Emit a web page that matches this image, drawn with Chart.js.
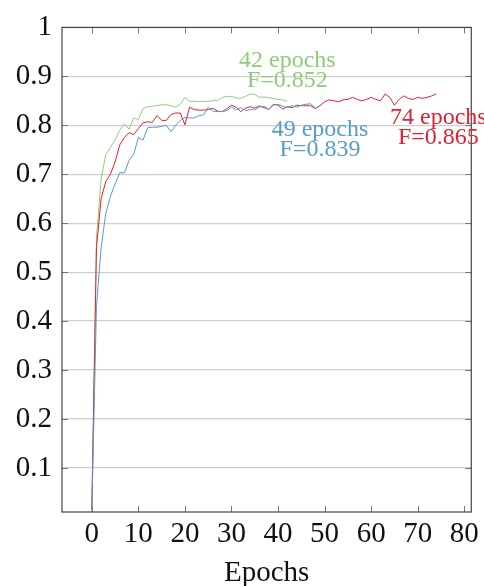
<!DOCTYPE html>
<html>
<head>
<meta charset="utf-8">
<script src="https://cdn.jsdelivr.net/npm/chart.js@4"></script>
<style>
  html, body { margin: 0; padding: 0; background: #fff; }
  #wrap { width: 484px; height: 586px; }
</style>
</head>
<body>
<div id="wrap"><canvas id="fChart"></canvas></div>
<script>
// F-score per epoch (index = epoch)
const greenF = [0.02, 0.57, 0.69, 0.74, 0.755, 0.77, 0.79, 0.803, 0.792, 0.815, 0.812, 0.834, 0.838, 0.839, 0.84,
    0.842, 0.842, 0.84, 0.837, 0.843, 0.857, 0.849, 0.849, 0.848, 0.849, 0.849, 0.85, 0.851, 0.857, 0.859,
    0.859, 0.856, 0.855, 0.859, 0.864, 0.863, 0.857, 0.858, 0.856, 0.855, 0.853, 0.852, 0.849];
const redF = [0.015, 0.55, 0.65, 0.685, 0.70, 0.725, 0.76, 0.775, 0.785, 0.781, 0.793, 0.805, 0.807, 0.806, 0.82,
    0.81, 0.81, 0.822, 0.825, 0.825, 0.801, 0.837, 0.832, 0.831, 0.831, 0.832, 0.835, 0.829, 0.828, 0.834,
    0.841, 0.837, 0.828, 0.835, 0.838, 0.835, 0.84, 0.836, 0.833, 0.843, 0.841, 0.833, 0.838, 0.836, 0.841,
    0.84, 0.84, 0.84, 0.834, 0.84, 0.848, 0.852, 0.85, 0.848, 0.852, 0.853, 0.857, 0.853, 0.85, 0.853,
    0.857, 0.853, 0.85, 0.864, 0.857, 0.841, 0.853, 0.86, 0.855, 0.853, 0.857, 0.855, 0.857, 0.86, 0.864];
const blueF = [0.01, 0.43, 0.55, 0.62, 0.655, 0.68, 0.703, 0.703, 0.728, 0.741, 0.775, 0.77, 0.795, 0.796, 0.796,
    0.798, 0.8, 0.787, 0.80, 0.81, 0.816, 0.815, 0.815, 0.82, 0.821, 0.837, 0.829, 0.828, 0.828, 0.83,
    0.837, 0.832, 0.836, 0.83, 0.832, 0.832, 0.837, 0.839, 0.832, 0.841, 0.843, 0.839, 0.836, 0.84, 0.837,
    0.841, 0.843, 0.844, 0.835, 0.84];

const xTicks = [0, 10, 20, 30, 40, 50, 60, 70, 80];
const yTicks = [0.1, 0.2, 0.3, 0.4, 0.5, 0.6, 0.7, 0.8, 0.9, 1];

// run summaries shown next to the curves
const runEpochs = [42, 74, 49];
const runBest = [0.852, 0.865, 0.839];

const GREEN = '#8fcc7a', RED = '#e3202f', BLUE = '#559dcb';
const serif = "'Liberation Serif', 'DejaVu Serif', serif";

function toPoints(arr) {
    return arr.map((v, i) => ({ x: i, y: v }));
}

// frame with inward ticks on all four sides (pgfplots look)
const framePlugin = {
    id: 'frame',
    afterDatasetsDraw(chart) {
        const { ctx, chartArea: a, scales: { x, y } } = chart;
        ctx.save();
        ctx.strokeStyle = '#777';
        ctx.lineWidth = 1;
        ctx.beginPath();
        xTicks.forEach(t => {
            const px = Math.round(x.getPixelForValue(t)) + 0.5;
            ctx.moveTo(px, a.bottom); ctx.lineTo(px, a.bottom - 6);
            ctx.moveTo(px, a.top); ctx.lineTo(px, a.top + 6);
        });
        yTicks.forEach(t => {
            const py = Math.round(y.getPixelForValue(t)) + 0.5;
            ctx.moveTo(a.left, py); ctx.lineTo(a.left + 6, py);
            ctx.moveTo(a.right, py); ctx.lineTo(a.right - 6, py);
        });
        ctx.stroke();
        ctx.strokeStyle = '#444';
        ctx.lineWidth = 1.2;
        ctx.strokeRect(a.left, a.top, a.right - a.left, a.bottom - a.top);
        ctx.restore();
    }
};

const labelPlugin = {
    id: 'runLabels',
    afterDraw(chart) {
        const { ctx, scales: { x, y } } = chart;
        const colors = [GREEN, RED, BLUE];
        const offsets = [-29, 34, 33];
        ctx.save();
        ctx.font = '24px ' + serif;
        ctx.textAlign = 'center';
        ctx.textBaseline = 'middle';
        runEpochs.forEach((ep, i) => {
            const px = x.getPixelForValue(ep);
            const py = y.getPixelForValue(runBest[i]) + offsets[i];
            ctx.fillStyle = colors[i];
            ctx.fillText(ep + ' epochs', px + (i === 1 ? 2 : 0), py - 10);
            ctx.fillText('F=' + runBest[i].toFixed(3), px + (i === 1 ? 2 : 0), py + 10);
        });
        ctx.restore();
    }
};

new Chart(document.getElementById('fChart'), {
    type: 'line',
    data: {
        datasets: [
            { label: '49 epochs', data: toPoints(blueF), borderColor: BLUE },
            { label: '74 epochs', data: toPoints(redF), borderColor: RED },
            { label: '42 epochs', data: toPoints(greenF), borderColor: GREEN }
        ].map(d => Object.assign(d, { borderWidth: 1, pointRadius: 0, fill: false, tension: 0 }))
    },
    options: {
        responsive: true,
        maintainAspectRatio: false,
        animation: false,
        layout: { padding: { top: 24, right: 12, left: 0, bottom: 0 } },
        plugins: {
            legend: { display: false },
            tooltip: { enabled: false }
        },
        scales: {
            x: {
                type: 'linear',
                min: -6.4,
                max: 81.5,
                afterBuildTicks: s => { s.ticks = xTicks.map(v => ({ value: v })); },
                afterFit: s => { s.height = 74; },
                grid: { display: false, drawTicks: false },
                border: { display: false },
                ticks: { color: '#111', padding: 5, font: { family: serif, size: 29 } },
                title: {
                    display: true,
                    text: 'Epochs',
                    color: '#111',
                    padding: { top: 6, bottom: -5 },
                    font: { family: serif, size: 29 }
                }
            },
            y: {
                min: 0.01,
                max: 1,
                afterBuildTicks: s => { s.ticks = yTicks.map(v => ({ value: v })); },
                afterFit: s => { s.width = 62; },
                grid: { color: '#cfcfcf', lineWidth: 1.2, drawTicks: false },
                border: { display: false },
                ticks: {
                    color: '#111',
                    padding: 10,
                    font: { family: serif, size: 29 },
                    callback: v => String(+v.toFixed(1))
                }
            }
        }
    },
    plugins: [framePlugin, labelPlugin]
});
</script>
</body>
</html>
